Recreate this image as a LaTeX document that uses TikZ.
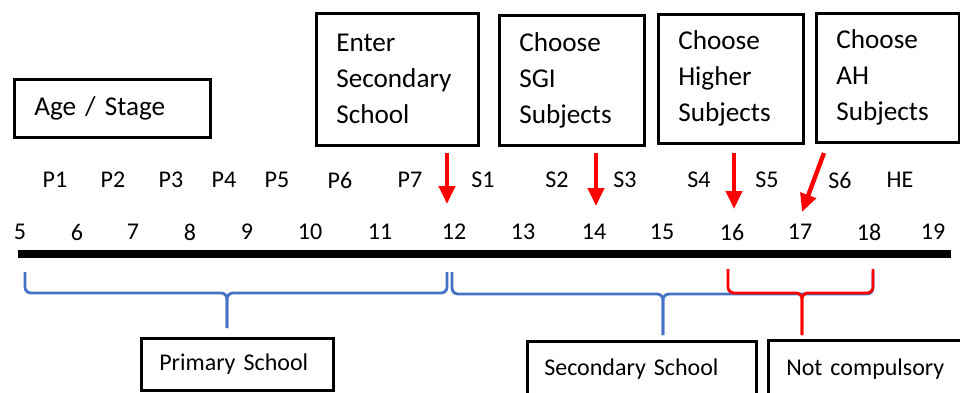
\documentclass[tikz,border=0pt]{standalone}
\usepackage{fontspec}
\setmainfont{Carlito}
\usetikzlibrary{arrows.meta}
\definecolor{wordblue}{RGB}{68,114,196}
\tikzset{
  box/.style={draw, line width=1.3pt, anchor=north west, align=left, inner xsep=10pt, inner ysep=0pt, font=\fontsize{12}{18}\selectfont},
  topbox/.style={box, font=\fontsize{13.6}{18}\selectfont},
  lbl/.style={font=\fontsize{12}{14}\selectfont, inner sep=0pt},
  redarrow/.style={red, line width=2.2pt, -{Triangle[width=8pt,length=9pt]}},
  bluebrace/.style={wordblue, line width=1.4pt, rounded corners=3pt},
  redbrace/.style={red, line width=1.4pt, rounded corners=3pt}
}
\begin{document}
\begin{tikzpicture}[x=0.5pt, y=-0.5pt]
\useasboundingbox (0,0) rectangle (960,392);
\clip (0,0) rectangle (960,392);
\node [topbox, text width=78pt, minimum height=29pt] (age) at (13,78) {Age / Stage};
\node [topbox, text width=61pt, minimum height=66pt] (enter) at (315,12) {Enter\\Secondary\\School};
\node [topbox, text width=52.5pt, minimum height=65pt] (sgi) at (498,14) {Choose\\SGI\\Subjects};
\node [topbox, text width=52.5pt, minimum height=64.5pt] (higher) at (657,13) {Choose\\Higher\\Subjects};
\node [topbox, text width=51.5pt, minimum height=64.5pt] (ah) at (815,12) {Choose\\AH\\Subjects};
\foreach \s/\x in {P1/55, P2/113, P3/171, P4/224, P5/277, P6/340, P7/410, S1/483, S2/557, S3/625, S4/699, S5/767, S6/840, HE/900}
  \node [lbl] (\s) at (\x,180) {\s};
\foreach \a/\x in {5/20, 6/77, 7/133, 8/190, 9/247, 10/310, 11/380, 12/454, 13/523, 14/594, 15/662, 16/732, 17/800, 18/869, 19/933}
  \node [lbl] (a\a) at (\x,232) {\a};
\coordinate (l) at (18,254);
\coordinate (r) at (951,254);
\draw [line width=4pt] (l) -- (r);
\coordinate (s12) at (447,153);
\coordinate (t12) at (447,204);
\coordinate (s14) at (596,153);
\coordinate (t14) at (596,206);
\coordinate (s16) at (734,153);
\coordinate (t16) at (734,209);
\coordinate (s17) at (824,153);
\coordinate (t17) at (802,212);
\draw [redarrow] (s12) -- (t12);
\draw [redarrow] (s14) -- (t14);
\draw [redarrow] (s16) -- (t16);
\draw [redarrow] (s17) -- (t17);
\draw [bluebrace] (25,272) |- (227,293) -- (227,328);
\draw [bluebrace] (447,272) |- (227,293) -- (227,328);
\draw [bluebrace] (452,272) |- (663,294) -- (663,335);
\draw [bluebrace] (873,272) |- (663,294) -- (663,335);
\draw [redbrace] (728,269) |- (802,293) -- (802,335);
\draw [redbrace] (873,269) |- (802,293) -- (802,335);
\node [box, text width=78pt, minimum height=26pt, inner xsep=9pt] (primary) at (140,337) {Primary School};
\node [box, text width=97.5pt, minimum height=28pt, inner xsep=8.5pt] (secondary) at (526,340) {Secondary School};
\node [box, text width=88.5pt, minimum height=29pt, inner xsep=9pt] (notcomp) at (767,339) {Not compulsory};
\end{tikzpicture}
\end{document}
